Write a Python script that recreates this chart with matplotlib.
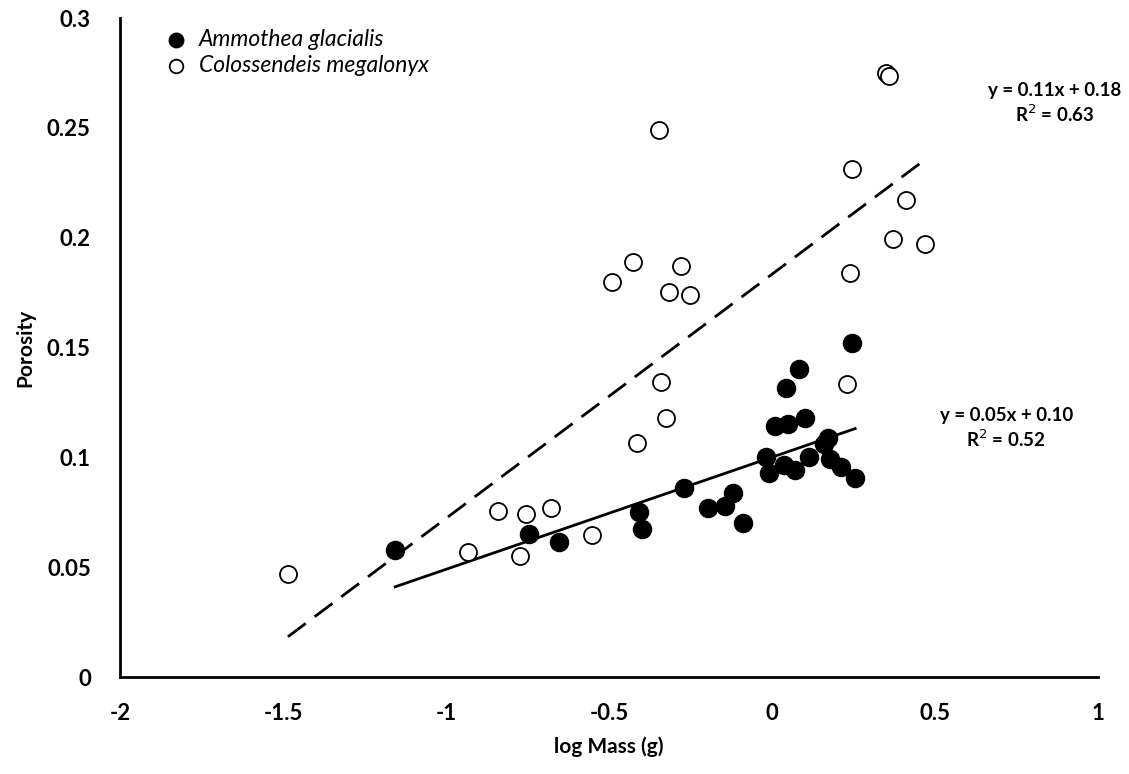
import numpy as np
import matplotlib
matplotlib.use("Agg")
import matplotlib.pyplot as plt

# Ammothea glacialis (filled)
amm_logmass = [-1.156, -0.744, -0.655, -0.407, -0.398, -0.270, -0.195, -0.144,
               -0.121, -0.088, -0.018, -0.008, 0.009, 0.048, 0.043, 0.084,
               0.101, 0.037, 0.071, 0.114, 0.173, 0.160, 0.178, 0.212,
               0.255, 0.245]
amm_porosity = [0.0578, 0.0650, 0.0616, 0.0753, 0.0672, 0.0859, 0.0768, 0.0779,
                0.0836, 0.0700, 0.1000, 0.0930, 0.1143, 0.1152, 0.1315, 0.1401,
                0.1181, 0.0965, 0.0943, 0.1000, 0.1087, 0.1060, 0.0991, 0.0955,
                0.0905, 0.1520]

# Colossendeis megalonyx (open)
col_logmass = [-1.485, -0.934, -0.841, -0.755, -0.773, -0.678, -0.553, -0.415,
               -0.341, -0.325, -0.347, -0.492, -0.427, -0.280, -0.315, -0.253,
               0.246, 0.349, 0.359, 0.411, 0.372, 0.470, 0.239, 0.229]
col_porosity = [0.0470, 0.0570, 0.0755, 0.0740, 0.0550, 0.0770, 0.0645, 0.1065,
                0.1345, 0.1180, 0.2490, 0.1800, 0.1890, 0.1870, 0.1755, 0.1740,
                0.2315, 0.2750, 0.2735, 0.2170, 0.1995, 0.1970, 0.1840, 0.1333]

x_ticks = [-2, -1.5, -1, -0.5, 0, 0.5, 1]
x_tick_labels = ["-2", "-1.5", "-1", "-0.5", "0", "0.5", "1"]
y_ticks = [0, 0.05, 0.1, 0.15, 0.2, 0.25, 0.3]
y_tick_labels = ["0", "0.05", "0.1", "0.15", "0.2", "0.25", "0.3"]

FONT = "Lato"


def linear_fit(x, y):
    x = np.asarray(x)
    y = np.asarray(y)
    slope, intercept = np.polyfit(x, y, 1)
    pred = slope * x + intercept
    r2 = 1 - np.sum((y - pred) ** 2) / np.sum((y - y.mean()) ** 2)
    return slope, intercept, r2


fig = plt.figure(figsize=(11.29, 7.74), dpi=100)
ax = fig.add_axes([0.1063, 0.1253, 0.8663, 0.8514])

ax.scatter(amm_logmass, amm_porosity, s=170, facecolor="black",
           edgecolor="black", linewidth=1.0, zorder=3,
           label="Ammothea glacialis")
ax.scatter(col_logmass, col_porosity, s=150, facecolor="white",
           edgecolor="black", linewidth=1.3, zorder=3,
           label="Colossendeis megalonyx")

# Trend lines spanning each species' mass range
for xs, ys, style in [(col_logmass, col_porosity, "dashed"),
                      (amm_logmass, amm_porosity, "solid")]:
    m, b, r2 = linear_fit(xs, ys)
    xl = np.array([min(xs), max(xs)])
    if style == "dashed":
        ax.plot(xl, m * xl + b, color="black", lw=2.0,
                linestyle=(0, (8, 4)), zorder=2)
        tx, ty = 0.866, 0.2612
    else:
        ax.plot(xl, m * xl + b, color="black", lw=2.0, zorder=2)
        tx, ty = 0.718, 0.1132
    ax.text(tx, ty, f"y = {m:.2f}x + {b:.2f}\nR$^2$ = {r2:.2f}",
            ha="center", va="center", fontsize=13.5, fontweight="bold",
            family=FONT, linespacing=1.25)

ax.set_xlim(-2, 1)
ax.set_ylim(0, 0.3)
ax.set_xticks(x_ticks)
ax.set_xticklabels(x_tick_labels)
ax.set_yticks(y_ticks)
ax.set_yticklabels(y_tick_labels)
ax.tick_params(length=0, labelsize=16)
ax.tick_params(axis="x", pad=19)
ax.tick_params(axis="y", pad=21)
for lab in ax.get_xticklabels() + ax.get_yticklabels():
    lab.set_fontweight("bold")
    lab.set_family(FONT)

for side in ("top", "right"):
    ax.spines[side].set_visible(False)
for side in ("left", "bottom"):
    ax.spines[side].set_linewidth(2.0)

ax.set_xlabel("log Mass (g)", fontsize=15, fontweight="bold", family=FONT,
              labelpad=9)
ax.set_ylabel("Porosity", fontsize=15, fontweight="bold", family=FONT,
              labelpad=8)

leg = ax.legend(loc="upper left", bbox_to_anchor=(0.022, 1.0), frameon=False,
                prop={"family": FONT, "style": "italic", "size": 16.5},
                handletextpad=0.0, labelspacing=0.2, markerscale=0.8,
                borderaxespad=0.1)

fig.savefig("out.png", dpi=100)
